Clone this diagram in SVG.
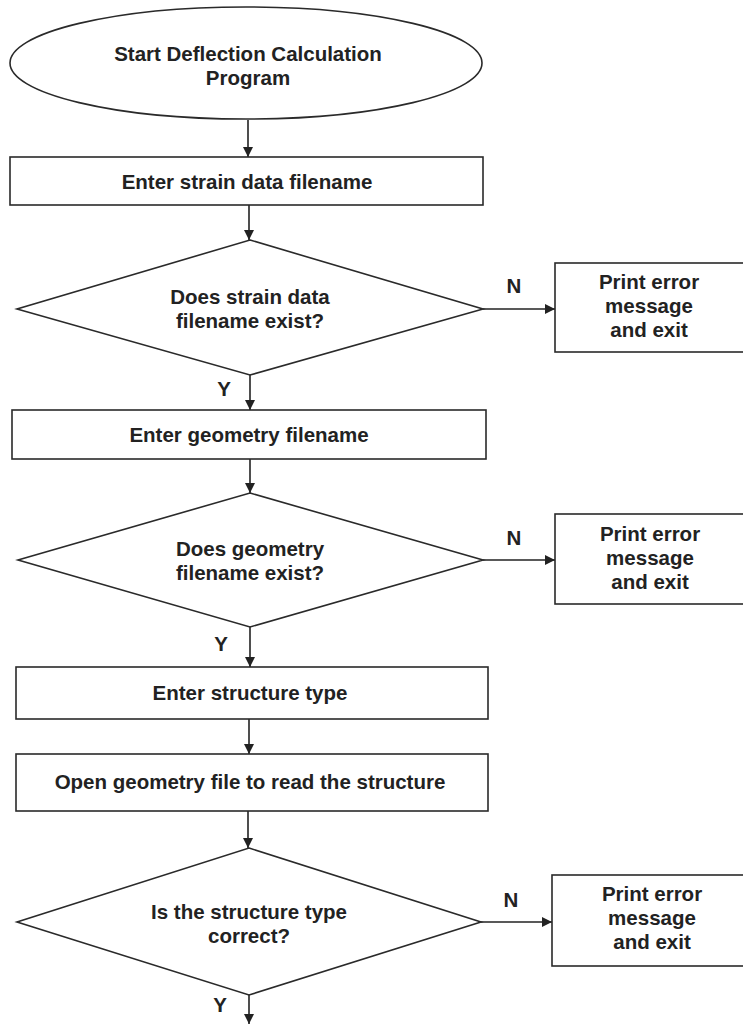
<svg xmlns="http://www.w3.org/2000/svg" width="743" height="1025" viewBox="0 0 743 1025">
<style>
.s{fill:#fff;stroke:#2a2a2a;stroke-width:1.6}
.t{font-family:"Liberation Sans",Arial,Helvetica,sans-serif;font-weight:bold;font-size:20.5px;fill:#222;text-anchor:middle}
.c{stroke:#222;stroke-width:1.6;fill:none}
</style>
<defs>
<marker id="ah" viewBox="0 0 10 10" refX="10" refY="5" markerWidth="10" markerHeight="10" markerUnits="userSpaceOnUse" orient="auto">
<path d="M0,0 L10,5 L0,10 z" fill="#222"/>
</marker>
</defs>
<rect width="743" height="1025" fill="#fff"/>
<g id="connectors">
<line class="c" x1="248" y1="120" x2="248" y2="157" marker-end="url(#ah)"/>
<line class="c" x1="249" y1="205" x2="249" y2="240" marker-end="url(#ah)"/>
<line class="c" x1="483" y1="309" x2="555" y2="309" marker-end="url(#ah)"/>
<line class="c" x1="250" y1="375" x2="250" y2="410" marker-end="url(#ah)"/>
<line class="c" x1="250" y1="459" x2="250" y2="493" marker-end="url(#ah)"/>
<line class="c" x1="483" y1="560" x2="555" y2="560" marker-end="url(#ah)"/>
<line class="c" x1="250" y1="627" x2="250" y2="667" marker-end="url(#ah)"/>
<line class="c" x1="249" y1="719" x2="249" y2="754" marker-end="url(#ah)"/>
<line class="c" x1="248" y1="811" x2="248" y2="848" marker-end="url(#ah)"/>
<line class="c" x1="481" y1="922" x2="552" y2="922" marker-end="url(#ah)"/>
<line class="c" x1="249" y1="995" x2="249" y2="1024" marker-end="url(#ah)"/>
<text class="t" x="514" y="293">N</text>
<text class="t" x="224" y="396">Y</text>
<text class="t" x="514" y="545">N</text>
<text class="t" x="221" y="651">Y</text>
<text class="t" x="511" y="907">N</text>
<text class="t" x="220" y="1012">Y</text>
</g>
<g id="start">
<ellipse class="s" cx="246" cy="63" rx="236" ry="56"/>
<text class="t" x="248" y="61">Start Deflection Calculation</text>
<text class="t" x="248" y="85">Program</text>
</g>
<g id="enter-strain">
<rect class="s" x="10" y="157" width="473" height="48"/>
<text class="t" x="247" y="189">Enter strain data filename</text>
</g>
<g id="check-strain">
<polygon class="s" points="250,240 483,309 250,375 17,309"/>
<text class="t" x="250" y="304">Does strain data</text>
<text class="t" x="250" y="328">filename exist?</text>
</g>
<g id="error-1">
<rect class="s" x="555" y="263" width="192" height="89"/>
<text class="t" x="649" y="289">Print error</text>
<text class="t" x="649" y="313">message</text>
<text class="t" x="649" y="337">and exit</text>
</g>
<g id="enter-geometry">
<rect class="s" x="12" y="410" width="474" height="49"/>
<text class="t" x="249" y="442">Enter geometry filename</text>
</g>
<g id="check-geometry">
<polygon class="s" points="250,493 483,560 250,627 18,560"/>
<text class="t" x="250" y="556">Does geometry</text>
<text class="t" x="250" y="580">filename exist?</text>
</g>
<g id="error-2">
<rect class="s" x="555" y="514" width="192" height="90"/>
<text class="t" x="650" y="541">Print error</text>
<text class="t" x="650" y="565">message</text>
<text class="t" x="650" y="589">and exit</text>
</g>
<g id="enter-structure">
<rect class="s" x="16" y="667" width="472" height="52"/>
<text class="t" x="250" y="700">Enter structure type</text>
</g>
<g id="open-geometry">
<rect class="s" x="16" y="754" width="472" height="57"/>
<text class="t" x="250" y="789">Open geometry file to read the structure</text>
</g>
<g id="check-structure">
<polygon class="s" points="249,848 481,922 249,995 17,922"/>
<text class="t" x="249" y="919">Is the structure type</text>
<text class="t" x="249" y="943">correct?</text>
</g>
<g id="error-3">
<rect class="s" x="552" y="875" width="195" height="91"/>
<text class="t" x="652" y="901">Print error</text>
<text class="t" x="652" y="925">message</text>
<text class="t" x="652" y="949">and exit</text>
</g>
</svg>
